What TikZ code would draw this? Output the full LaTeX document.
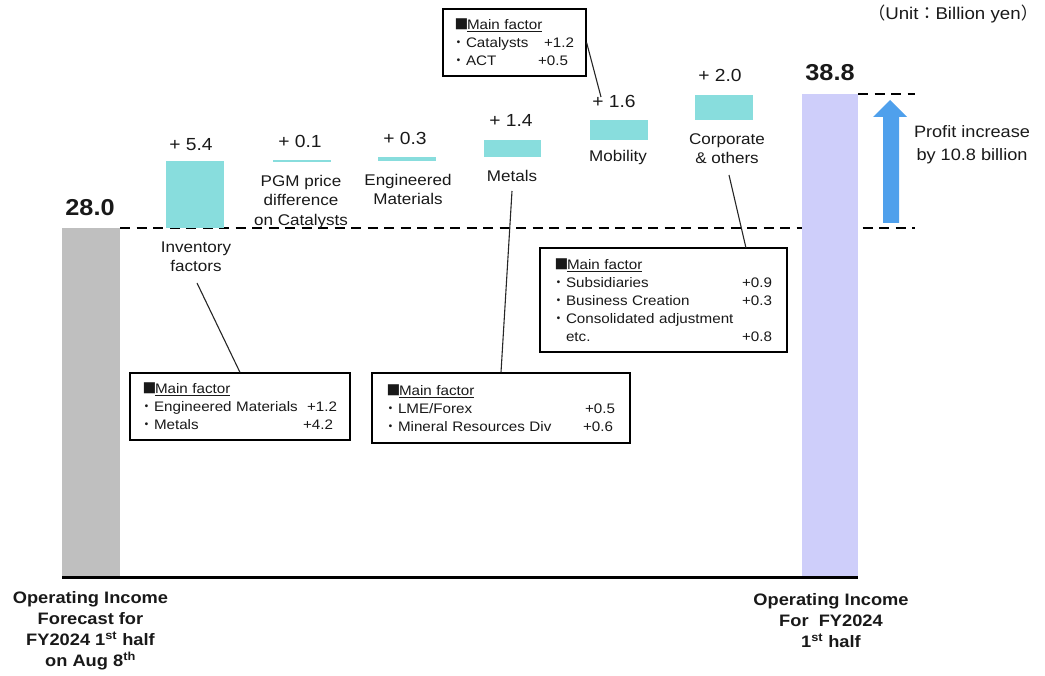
\documentclass[tikz,border=0pt]{standalone}
\usepackage{fontspec}
\setmainfont[FakeStretch=1.1]{Liberation Sans}
\newfontfamily\cjk{Noto Sans CJK JP}
\definecolor{tealbar}{RGB}{136,221,221}
\definecolor{graybar}{RGB}{191,191,191}
\definecolor{lavbar}{RGB}{206,206,250}
\definecolor{arrowblue}{RGB}{79,160,236}
\definecolor{txt}{RGB}{25,25,25}
\newcommand\bul{\makebox[11pt][l]{\hspace{-3.5pt}{\cjk ・}}}
\newcommand\sqb{\makebox[12pt][l]{\hspace{-0.5pt}{\cjk ■}}}
\begin{document}
\begin{tikzpicture}[x=1pt,y=-1pt,
  bar/.style={fill=tealbar,draw=none},
  val/.style={font=\fontsize{17.5}{20}\selectfont,text=txt},
  cat/.style={font=\fontsize{15.5}{19.5}\selectfont,align=center,text=txt},
  fbox/.style={draw=black,line width=1.2pt,fill=white,align=left,inner ysep=0pt,
     font=\fontsize{13.8}{18}\selectfont,text=txt},
  bot/.style={font=\bfseries\fontsize{16.6}{21}\selectfont,align=center,text=txt},
  big/.style={font=\bfseries\fontsize{23}{26}\selectfont,text=txt},
  dashline/.style={line width=2.2pt,dash pattern=on 10pt off 6.5pt},
  conn/.style={line width=1.1pt,draw=black!85}
]
\useasboundingbox (0,0) rectangle (1045,676);
% dashed reference lines
\draw[dashline] (120,228) -- (915,228);
\draw[dashline] (858,94) -- (915,94);
% bars
\fill[graybar] (62,228) rectangle (120,577);
\fill[lavbar] (802,94) rectangle (858,577);
\path[bar] (166,161) rectangle (224,228);
\path[bar] (273,160) rectangle (331,162);
\path[bar] (378,157) rectangle (436,161);
\path[bar] (484,140) rectangle (541,157);
\path[bar] (590,120) rectangle (648,140);
\path[bar] (695,95) rectangle (753,120);
% baseline
\draw[line width=3pt] (62,577) -- (858,577);
% arrow
\fill[arrowblue] (883,223) -- (883,117) -- (873,117) -- (890,100) -- (907,117) -- (899,117) -- (899,223) -- cycle;
% values
\node[big] (t28) at (90,208) {28.0};
\node[big] (t38) at (830,73) {38.8};
\node[val] (v1) at (191,145) {+ 5.4};
\node[val] (v2) at (300,141) {+ 0.1};
\node[val] (v3) at (405,138) {+ 0.3};
\node[val] (v4) at (511,120) {+ 1.4};
\node[val] (v5) at (614,101) {+ 1.6};
\node[val] (v6) at (720,75) {+ 2.0};
% category labels
\node[cat] (l1) at (196,256.5) {Inventory\\factors};
\node[cat] (l2) at (301,201.5) {PGM price\\difference\\on Catalysts};
\node[cat] (l3) at (408,189.5) {Engineered\\Materials};
\node[cat] (l4) at (512,176) {Metals};
\node[cat] (l5) at (618,157) {Mobility};
\node[cat] (l6) at (727,148.5) {Corporate\\\& others};
% right side
\node[font=\fontsize{16.5}{23}\selectfont,align=center,text=txt] (pi) at (972,144.5) {Profit increase\\by 10.8 billion};
\node[font=\fontsize{17}{19}\selectfont,text=txt] (unit) at (953,14) {{\cjk （}Unit{\cjk ：}Billion yen{\cjk ）}};
% bottom labels
\node[bot] (bl) at (90.5,631) {Operating Income\\Forecast for\\FY2024 1\textsuperscript{st} half\\on Aug 8\textsuperscript{th}};
\node[bot] (br) at (831,621) {Operating Income\\For\ \ FY2024\\1\textsuperscript{st} half};
% factor boxes
\node[fbox,inner xsep=12pt,text width=119pt,minimum height=67pt] (b1) at (514.5,42.5)
 {\sqb\underline{Main factor}\\\bul Catalysts\hfill+1.2\hspace*{6pt}\\\bul ACT\hfill+0.5\hspace*{6pt}};
\node[fbox,inner xsep=15pt,text width=217pt,minimum height=104pt] (b2) at (663.5,300)
 {\sqb\underline{Main factor}\\\bul Subsidiaries\hfill+0.9\\\bul Business Creation\hfill+0.3\\\bul Consolidated adjustment\\\hspace*{11pt}etc.\hfill+0.8};
\node[fbox,inner xsep=13pt,text width=194pt,minimum height=67pt] (b3) at (240,406.5)
 {\sqb\underline{Main factor}\\\bul Engineered Materials\hfill+1.2\hspace*{4pt}\\\bul Metals\hfill+4.2\hspace*{4pt}};
\node[fbox,inner xsep=15pt,text width=228pt,minimum height=70pt] (b4) at (501,408)
 {\sqb\underline{Main factor}\\\bul LME/Forex\hfill+0.5\hspace*{2pt}\\\bul Mineral Resources Div\hfill+0.6\hspace*{2pt}};
% connectors
\coordinate (k1) at (601,97);
\coordinate (k2a) at (729,175);
\coordinate (k2b) at (746,248);
\coordinate (k3) at (197,283);
\coordinate (k4) at (512,191);
\draw[conn] (b1.east) -- (k1);
\draw[conn] (k2a) -- (k2b);
\draw[conn] (k3) -- (b3.north);
\draw[conn] (k4) -- (b4.north);
\end{tikzpicture}
\end{document}
